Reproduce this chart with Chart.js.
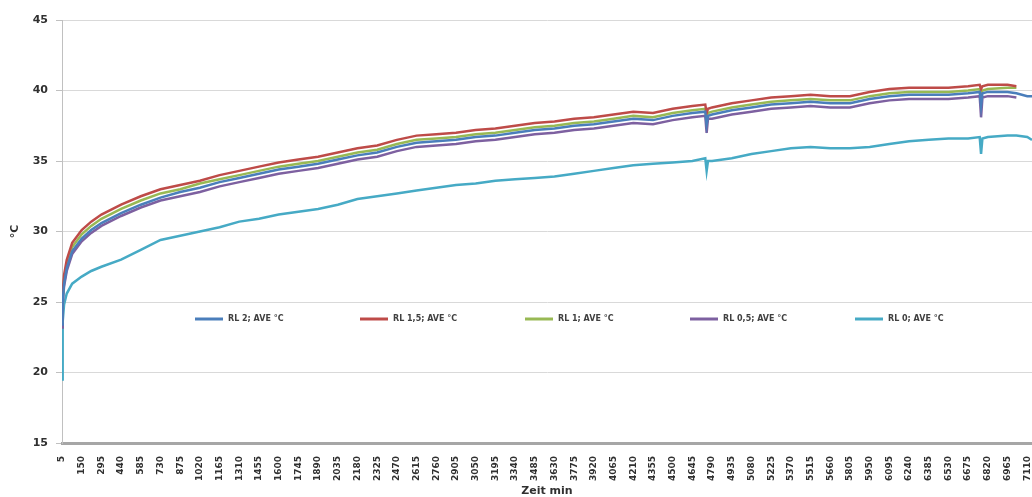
<!DOCTYPE html>
<html>
<head>
<meta charset="utf-8">
<script src="https://cdn.jsdelivr.net/npm/chart.js@4/dist/chart.umd.min.js"></script>
<style>
  html, body { margin: 0; padding: 0; background: #fff; }
  #wrap { width: 1032px; height: 497px; position: relative; }
</style>
</head>
<body>
<div id="wrap"><canvas id="tempChart"></canvas></div>
<script>
// Zeit in Minuten (Messpunkte)
const zeitMin = [5, 10, 20, 40, 80, 150, 220, 295,
  440, 585, 730, 875, 1020, 1165, 1310, 1455, 1600, 1745, 1890, 2035, 2180, 2325, 2470, 2615, 2760, 2905,
  3050, 3195, 3340, 3485, 3630, 3775, 3920, 4065, 4210, 4355, 4500, 4645,
  4740, 4750, 4760,
  4790, 4935, 5080, 5225, 5370, 5515, 5660, 5805, 5950, 6095, 6240, 6385, 6530, 6675,
  6760, 6770, 6780,
  6820, 6965, 7030, 7110, 7145];

const rl2 = [23.4, 25.0, 26.3, 27.4, 28.6, 29.5, 30.1, 30.6,
  31.3, 31.9, 32.4, 32.8, 33.1, 33.5, 33.8, 34.1, 34.4, 34.6, 34.8, 35.1, 35.4, 35.6, 36.0, 36.3, 36.4, 36.5,
  36.7, 36.8, 37.0, 37.2, 37.3, 37.5, 37.6, 37.8, 38.0, 37.9, 38.2, 38.4,
  38.5, 37.6, 38.2,
  38.3, 38.6, 38.8, 39.0, 39.1, 39.2, 39.1, 39.1, 39.4, 39.6, 39.7, 39.7, 39.7, 39.8,
  39.9, 38.9, 39.8,
  39.9, 39.9, 39.8, 39.6, 39.6];

const rl15 = [23.8, 25.6, 26.9, 28.0, 29.2, 30.1, 30.7, 31.2,
  31.9, 32.5, 33.0, 33.3, 33.6, 34.0, 34.3, 34.6, 34.9, 35.1, 35.3, 35.6, 35.9, 36.1, 36.5, 36.8, 36.9, 37.0,
  37.2, 37.3, 37.5, 37.7, 37.8, 38.0, 38.1, 38.3, 38.5, 38.4, 38.7, 38.9,
  39.0, 38.4, 38.7,
  38.8, 39.1, 39.3, 39.5, 39.6, 39.7, 39.6, 39.6, 39.9, 40.1, 40.2, 40.2, 40.2, 40.3,
  40.4, 40.1, 40.3,
  40.4, 40.4, 40.3, null, null];

const rl1 = [23.6, 25.3, 26.6, 27.7, 28.9, 29.8, 30.4, 30.9,
  31.6, 32.2, 32.7, 33.0, 33.4, 33.7, 34.0, 34.3, 34.6, 34.8, 35.0, 35.3, 35.6, 35.8, 36.2, 36.5, 36.6, 36.7,
  36.9, 37.0, 37.2, 37.4, 37.5, 37.7, 37.8, 38.0, 38.2, 38.1, 38.4, 38.6,
  38.7, 38.0, 38.4,
  38.5, 38.8, 39.0, 39.2, 39.3, 39.4, 39.3, 39.3, 39.6, 39.8, 39.9, 39.9, 39.9, 40.0,
  40.1, 39.6, 40.0,
  40.1, 40.2, 40.2, null, null];

const rl05 = [23.2, 24.8, 26.1, 27.2, 28.4, 29.3, 29.9, 30.4,
  31.1, 31.7, 32.2, 32.5, 32.8, 33.2, 33.5, 33.8, 34.1, 34.3, 34.5, 34.8, 35.1, 35.3, 35.7, 36.0, 36.1, 36.2,
  36.4, 36.5, 36.7, 36.9, 37.0, 37.2, 37.3, 37.5, 37.7, 37.6, 37.9, 38.1,
  38.2, 37.0, 38.0,
  38.0, 38.3, 38.5, 38.7, 38.8, 38.9, 38.8, 38.8, 39.1, 39.3, 39.4, 39.4, 39.4, 39.5,
  39.6, 38.1, 39.5,
  39.6, 39.6, 39.5, null, null];

const rl0 = [19.5, 23.6, 24.8, 25.6, 26.3, 26.8, 27.2, 27.5,
  28.0, 28.7, 29.4, 29.7, 30.0, 30.3, 30.7, 30.9, 31.2, 31.4, 31.6, 31.9, 32.3, 32.5, 32.7, 32.9, 33.1, 33.3,
  33.4, 33.6, 33.7, 33.8, 33.9, 34.1, 34.3, 34.5, 34.7, 34.8, 34.9, 35.0,
  35.2, 34.3, 35.0,
  35.0, 35.2, 35.5, 35.7, 35.9, 36.0, 35.9, 35.9, 36.0, 36.2, 36.4, 36.5, 36.6, 36.6,
  36.7, 35.5, 36.6,
  36.7, 36.8, 36.8, 36.7, 36.5];

const seriesNames = ['RL 2; AVE °C', 'RL 1,5; AVE °C', 'RL 1; AVE °C', 'RL 0,5; AVE °C', 'RL 0; AVE °C'];
const seriesColors = ['#4a7ebb', '#be4b48', '#98b954', '#7d60a0', '#46aac5'];

// Beschriftung der Zeitachse
const xTickLabels = [5, 150, 295, 440, 585, 730, 875, 1020, 1165, 1310, 1455, 1600, 1745, 1890, 2035,
  2180, 2325, 2470, 2615, 2760, 2905, 3050, 3195, 3340, 3485, 3630, 3775, 3920, 4065, 4210, 4355,
  4500, 4645, 4790, 4935, 5080, 5225, 5370, 5515, 5660, 5805, 5950, 6095, 6240, 6385, 6530, 6675,
  6820, 6965, 7110];
const yTickLabels = [15, 20, 25, 30, 35, 40, 45];

const allSeries = [rl2, rl15, rl1, rl05, rl0];
const toPoints = (vals) => zeitMin.map((t, i) => ({ x: t, y: vals[i] }));

// Legend drawn inside the plot area, like the original
const innerLegend = {
  id: 'innerLegend',
  afterDraw(chart) {
    const ctx = chart.ctx;
    const area = chart.chartArea;
    const y = area.top + 299;
    ctx.save();
    ctx.font = 'bold 8px "DejaVu Sans"';
    ctx.textBaseline = 'middle';
    ctx.fillStyle = '#404040';
    chart.data.datasets.forEach((ds, i) => {
      const x0 = 195 + i * 165;
      ctx.strokeStyle = ds.borderColor;
      ctx.lineWidth = 3;
      ctx.beginPath();
      ctx.moveTo(x0, y);
      ctx.lineTo(x0 + 28, y);
      ctx.stroke();
      ctx.fillText(ds.label, x0 + 33, y);
    });
    ctx.restore();
  }
};

new Chart(document.getElementById('tempChart'), {
  type: 'line',
  data: {
    datasets: allSeries.map((vals, i) => ({
      label: seriesNames[i],
      data: toPoints(vals),
      borderColor: seriesColors[i],
      backgroundColor: seriesColors[i],
      borderWidth: 2.5,
      pointRadius: 0,
      tension: 0,
      spanGaps: false
    }))
  },
  options: {
    responsive: true,
    maintainAspectRatio: false,
    animation: false,
    layout: { padding: { top: 20, left: 0, right: 0, bottom: 0 } },
    plugins: {
      legend: { display: false },
      tooltip: { enabled: false }
    },
    scales: {
      x: {
        type: 'linear',
        min: 5,
        max: 7145,
        afterBuildTicks: (scale) => { scale.ticks = xTickLabels.map(v => ({ value: v })); },
        afterFit: (scale) => {
          scale.height = 54;
          scale.paddingLeft = 0;
          scale.paddingRight = 0;
        },
        grid: { display: false },
        border: { display: true, color: '#a6a6a6', width: 3 },
        ticks: {
          autoSkip: false,
          minRotation: 90,
          maxRotation: 90,
          padding: 5,
          color: '#303030',
          font: { family: 'DejaVu Sans', size: 9, weight: 'bold' },
          callback: (v) => String(v)
        },
        title: {
          display: true,
          text: 'Zeit min',
          color: '#303030',
          padding: { top: 0, bottom: 0 },
          font: { family: 'DejaVu Sans', size: 11, weight: 'bold', lineHeight: 1 }
        }
      },
      y: {
        min: 15,
        max: 45,
        afterBuildTicks: (scale) => { scale.ticks = yTickLabels.map(v => ({ value: v })); },
        afterFit: (scale) => { scale.width = 62; },
        grid: { color: '#d9d9d9', lineWidth: 1, tickLength: 6, tickColor: '#c0c0c0' },
        border: { display: true, color: '#c0c0c0', width: 1 },
        ticks: {
          padding: 8,
          color: '#303030',
          font: { family: 'DejaVu Sans', size: 11, weight: 'bold' }
        },
        title: {
          display: true,
          text: '°C',
          color: '#303030',
          padding: { top: 9, bottom: 0 },
          font: { family: 'DejaVu Sans', size: 11, weight: 'bold', lineHeight: 1.1 }
        }
      }
    }
  },
  plugins: [innerLegend]
});
</script>
</body>
</html>
